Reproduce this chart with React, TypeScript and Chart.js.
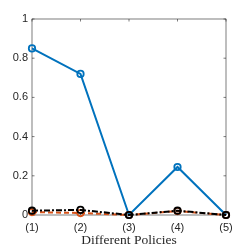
import React, { useEffect, useRef } from "react";
import { Chart, registerables } from "chart.js";

Chart.register(...registerables);

const categories = ["(1)", "(2)", "(3)", "(4)", "(5)"];
const seriesBlue = [0.85, 0.72, 0.0, 0.245, 0.0];
const seriesOrange = [0.015, 0.01, 0.0, 0.02, 0.0];
const seriesBlack = [0.022, 0.026, 0.0, 0.022, 0.0];
const yTicks = [0, 0.2, 0.4, 0.6, 0.8, 1];
const xTitle = "Different Policies";

const boxPlugin = {
  id: "boxPlugin",
  beforeDatasetsDraw(chart: any) {
    const { ctx, chartArea } = chart;
    const { left, right, top, bottom } = chartArea;
    const ys = chart.scales.y;
    const xs = chart.scales.x;
    ctx.save();
    ctx.strokeStyle = "#262626";
    ctx.lineWidth = 0.6;
    ctx.strokeRect(left, top, right - left, bottom - top);
    ctx.beginPath();
    const tl = 2.5;
    yTicks.forEach((v) => {
      const y = ys.getPixelForValue(v);
      ctx.moveTo(left, y);
      ctx.lineTo(left + tl, y);
      ctx.moveTo(right, y);
      ctx.lineTo(right - tl, y);
    });
    categories.forEach((_, i) => {
      const x = xs.getPixelForValue(i);
      ctx.moveTo(x, bottom);
      ctx.lineTo(x, bottom - tl);
      ctx.moveTo(x, top);
      ctx.lineTo(x, top + tl);
    });
    ctx.stroke();
    ctx.restore();
  },
};

export default function App() {
  const ref = useRef<HTMLCanvasElement | null>(null);
  useEffect(() => {
    if (!ref.current) return;
    const chart = new Chart(ref.current, {
      type: "line",
      data: {
        labels: categories,
        datasets: [
          {
            data: seriesBlue,
            borderColor: "#0072BD",
            backgroundColor: "rgba(255,255,255,0)",
            borderWidth: 2,
            pointRadius: 3.2,
            pointBorderWidth: 1.8,
            pointBackgroundColor: "rgba(255,255,255,0)",
            pointBorderColor: "#0072BD",
            clip: false as any,
            order: 3,
          },
          {
            data: seriesOrange,
            borderColor: "#D95319",
            backgroundColor: "rgba(255,255,255,0)",
            borderWidth: 2,
            borderDash: [5, 3],
            pointRadius: 3.2,
            pointBorderWidth: 1.8,
            pointBackgroundColor: "rgba(255,255,255,0)",
            pointBorderColor: "#D95319",
            clip: false as any,
            order: 2,
          },
          {
            data: seriesBlack,
            borderColor: "#000000",
            backgroundColor: "rgba(255,255,255,0)",
            borderWidth: 2,
            borderDash: [6, 2, 2, 2],
            pointRadius: 3.2,
            pointBorderWidth: 1.8,
            pointBackgroundColor: "rgba(255,255,255,0)",
            pointBorderColor: "#000000",
            clip: false as any,
            order: 1,
          },
        ],
      },
      options: {
        animation: false,
        responsive: false,
        maintainAspectRatio: false,
        layout: { padding: { left: 0, top: 19, right: 23, bottom: 0 } },
        plugins: {
          legend: { display: false },
          tooltip: { enabled: false },
        },
        scales: {
          x: {
            type: "category",
            offset: false,
            grid: { display: false, drawTicks: false },
            border: { display: false },
            ticks: {
              padding: 6,
              color: "#262626",
              font: { family: "Liberation Sans", size: 11 },
              maxRotation: 0,
              autoSkip: false,
            },
            title: {
              display: true,
              text: xTitle,
              color: "#262626",
              font: { family: "Liberation Serif", size: 13.5 },
              padding: { top: 0, bottom: 0 },
            },
            afterFit: (s: any) => {
              s.height = 34;
            },
          },
          y: {
            min: 0,
            max: 1,
            grid: { display: false, drawTicks: false },
            border: { display: false },
            ticks: {
              stepSize: 0.2,
              padding: 4,
              color: "#262626",
              font: { family: "Liberation Sans", size: 11 },
              callback: (v: any) => String(Number(Number(v).toFixed(1))),
            },
            afterFit: (s: any) => {
              s.width = 32;
            },
          },
        },
      },
      plugins: [boxPlugin],
    });
    return () => chart.destroy();
  }, []);
  return (
    <div style={{ position: "fixed", left: 0, top: 0, width: 249, height: 249, background: "#fff" }}>
      <canvas ref={ref} width={249} height={249} style={{ width: 249, height: 249 }} />
    </div>
  );
}
